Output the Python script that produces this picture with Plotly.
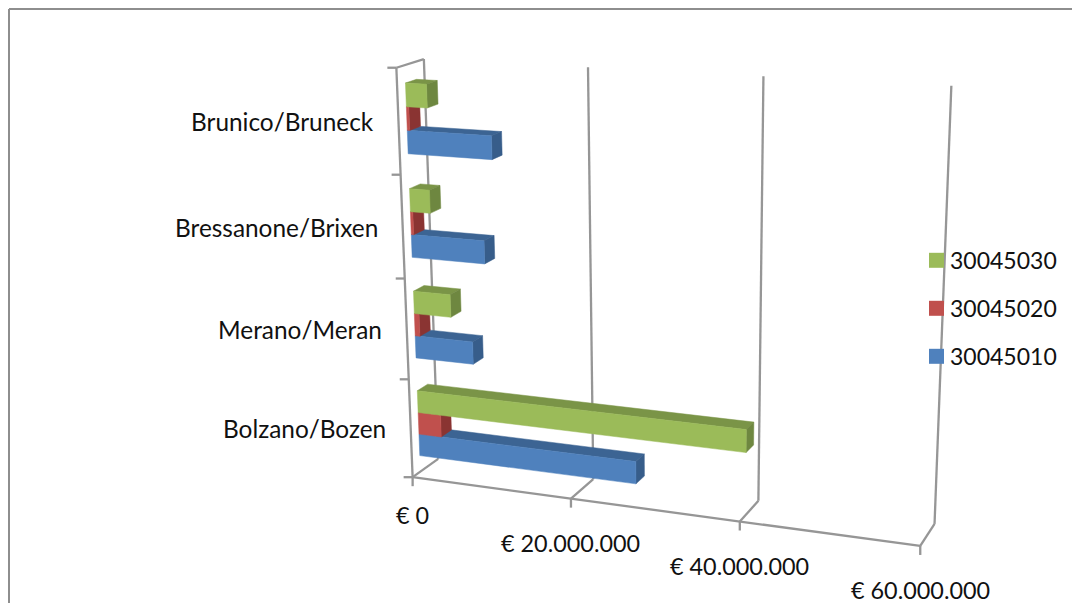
import numpy as np
import plotly.graph_objects as go

# ---- data ----
categories = ["Bolzano/Bozen", "Merano/Meran", "Bressanone/Brixen", "Brunico/Bruneck"]
series_names = ["30045010", "30045020", "30045030"]
s_30045010 = [27100000, 7300000, 9100000, 10350000]
s_30045020 = [2900000, 600000, 300000, 300000]
s_30045030 = [40000000, 4650000, 2500000, 2600000]
value_ticks = [0, 20000000, 40000000, 60000000]
value_labels = ["€ 0", "€ 20.000.000", "€ 40.000.000", "€ 60.000.000"]

# ---- style ----
FRONT = ["#4F81BD", "#C0504D", "#9BBB59"]
TOP = ["#3C6493", "#953B39", "#7A9447"]
SIDE = ["#375D8A", "#8A3432", "#6E8740"]
GRID = "#969696"
FONT = dict(family="Lato", size=23.4, color="#111111")
LEGEND_FONT = dict(family="Lato", size=23, color="#111111")
CAT_FONT = dict(family="Lato", size=24.4, color="#111111")
VMAX = 60000000

# Perspective of the pseudo-3D plot (plotly's gl scene has a fixed field of view, too wide for this one)
EYE = np.array([1.220130, -3.310856, 0.958293])
CENTER = np.array([-0.090111, -0.116283, -0.053675])
ROLL = 0.012805
DEPTH_RATIO, HEIGHT_RATIO = 0.111401, 0.797344
PX, PY, VIEW_H = 594.369487, 335.057237, 1663.315112

_F = (CENTER - EYE) / np.linalg.norm(CENTER - EYE)
_R = np.cross(_F, [np.sin(ROLL), 0, np.cos(ROLL)])
_R /= np.linalg.norm(_R)
_T = np.cross(_R, _F)
_FOCAL = VIEW_H / 2 * 2.41421


def project(value, depth, height):
    d = np.array([value / VMAX - .5, (depth - .5) * DEPTH_RATIO, (height - .5) * HEIGHT_RATIO]) - EYE
    zc = d @ _F
    return PX + _FOCAL * (d @ _R) / zc, PY - _FOCAL * (d @ _T) / zc


fig = go.Figure()


def poly(corners, color):
    xy = [project(*c) for c in corners]
    xs = [p[0] for p in xy] + [xy[0][0]]
    ys = [p[1] for p in xy] + [xy[0][1]]
    fig.add_trace(go.Scatter(x=xs, y=ys, mode="lines", fill="toself", fillcolor=color,
                             line=dict(color=color, width=0.5), hoverinfo="skip", showlegend=False))


def seg(x0, y0, x1, y1):
    fig.add_trace(go.Scatter(x=[x0, x1], y=[y0, y1], mode="lines", line=dict(color=GRID, width=2.3),
                             hoverinfo="skip", showlegend=False))


def seg3(a, b):
    p, q = project(*a), project(*b)
    seg(p[0], p[1], q[0], q[1])


# gridlines / axes
for t in value_ticks:
    seg3((t, 1, 0), (t, 1, 1))
    seg3((t, 0, 0), (t, 1, 0))
    p = project(t, 0, 0)
    seg(p[0], p[1], p[0], p[1] + 9)
seg3((0, 0, 0), (VMAX, 0, 0))
seg3((0, 0, 0), (0, 0, 1))
seg3((0, 0, 1), (0, 1, 1))
for i in range(len(categories) + 1):
    p = project(0, 0, i / len(categories))
    seg(p[0] - 9, p[1], p[0], p[1])

# bars
V0, V1 = 0.3, 0.7
n = len(categories)
series = [s_30045010, s_30045020, s_30045030]
for i in range(n):
    for k, vals in enumerate(series):
        val = vals[i]
        w0 = (i + (0.75 + k) / 4.5) / n
        w1 = (i + (1.75 + k) / 4.5) / n
        poly([(val, V0, w1), (val, V1, w1), (0, V1, w1), (0, V0, w1)], TOP[k])
        poly([(val, V0, w0), (val, V1, w0), (val, V1, w1), (val, V0, w1)], SIDE[k])
        poly([(0, V0, w0), (val, V0, w0), (val, V0, w1), (0, V0, w1)], FRONT[k])

# legend entries (plotly's swatch sits too far from the text, so the squares are drawn as shapes)
shapes = [dict(type="line", xref="x", yref="y", x0=9, x1=1072, y0=9, y1=9, line=dict(color="#8E8E8E", width=2)),
          dict(type="line", xref="x", yref="y", x0=9, x1=9, y0=9, y1=603, line=dict(color="#8E8E8E", width=2))]
for row, k in enumerate((2, 1, 0)):
    fig.add_trace(go.Scatter(x=[None], y=[None], mode="markers", name=series_names[k], legendgroup=series_names[k],
                             marker=dict(symbol="square", size=15, color="rgba(0,0,0,0)")))
    yc = 260.3 + 48 * row
    shapes.append(dict(type="rect", xref="x", yref="y", x0=929, x1=944, y0=yc - 7.5, y1=yc + 7.5,
                       fillcolor=FRONT[k], line=dict(width=0)))

# text
annotations = []
for t, lab, dy in zip(value_ticks, value_labels, [38, 44, 44, 44]):
    p = project(t, 0, 0)
    annotations.append(dict(x=p[0], y=p[1] + dy, text=lab, showarrow=False, xanchor="center", yanchor="middle", font=FONT))
for i, c in enumerate(categories):
    p = project(0, 0, (i + .5) / n)
    annotations.append(dict(x=p[0] - 22.5, y=p[1], text=c, showarrow=False, xanchor="right", yanchor="middle", font=CAT_FONT))

fig.update_layout(
    width=1072, height=603, margin=dict(l=0, r=0, t=0, b=0),
    paper_bgcolor="white", plot_bgcolor="white", showlegend=True,
    xaxis=dict(range=[0, 1072], visible=False, fixedrange=True),
    yaxis=dict(range=[603, 0], visible=False, fixedrange=True),
    annotations=annotations,
    legend=dict(x=910 / 1072, y=1 - 239 / 603, xanchor="left", yanchor="top", font=LEGEND_FONT, tracegroupgap=15,
                bgcolor="rgba(0,0,0,0)", itemwidth=30),
    shapes=shapes,
)
fig.write_html("out.html", config={"displayModeBar": False},
               post_script="document.body.style.margin='0';document.body.style.overflow='hidden';")
